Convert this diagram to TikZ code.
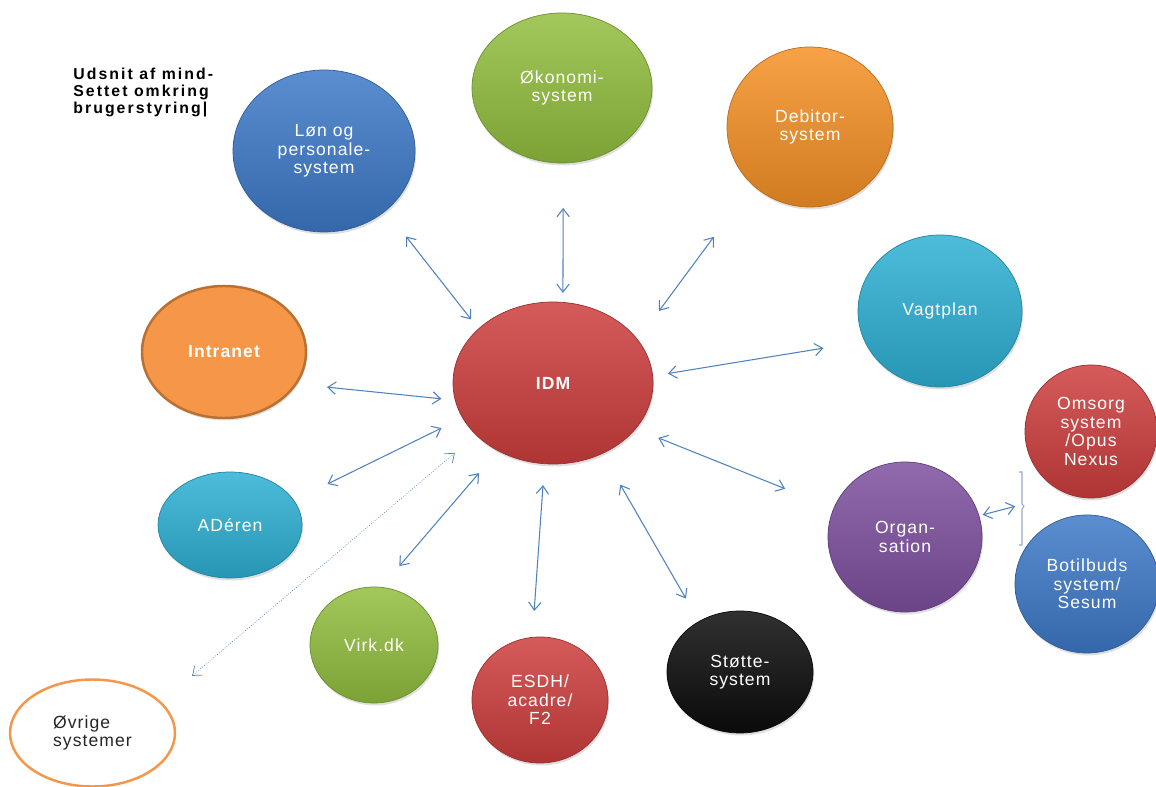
\documentclass[tikz,border=0pt]{standalone}
\usepackage{fontspec}
\usetikzlibrary{shapes.geometric,arrows.meta,shadows}

\newfontfamily\sysfont[LetterSpace=6]{Liberation Sans}
\newfontfamily\titlefont[LetterSpace=13]{Liberation Sans}
\newcommand\nodesize{\fontsize{10}{10.5}\selectfont}

\definecolor{sysblue}{RGB}{62,122,200}
\definecolor{sysgreen}{RGB}{146,190,62}
\definecolor{sysorange}{RGB}{245,145,38}
\definecolor{syscyan}{RGB}{46,176,212}
\definecolor{sysred}{RGB}{206,62,62}
\definecolor{syspurple}{RGB}{126,80,160}
\definecolor{sysblack}{RGB}{12,12,12}
\definecolor{intraorange}{RGB}{245,150,72}
\definecolor{intraedge}{RGB}{186,112,48}
\definecolor{linkblue}{RGB}{79,129,189}
\definecolor{bracegray}{RGB}{150,170,200}

\begin{document}
\begin{tikzpicture}[
    bubble/.style={ellipse, outer sep=0pt, inner sep=0pt, align=center,
      text=white, font=\sysfont\nodesize,
      top color=#1!85!white, bottom color=#1!85!black, draw=#1!75!black,
      drop shadow={opacity=0.25, shadow xshift=0.6pt, shadow yshift=-1.4pt}},
    link/.style={<->, >={Straight Barb[length=4.5pt,width=7pt]},
      draw=linkblue, line width=0.6pt}]

\useasboundingbox (0,0) rectangle (23.12,-15.74);

\node[anchor=north west, inner sep=0pt, align=left,
  font=\titlefont\bfseries\fontsize{9}{9.6}\selectfont] (title) at (1.46,-1.36)
  {Udsnit af mind-\\Settet omkring\\brugerstyring|};

% center
\node[bubble=sysred, minimum width=4cm, minimum height=3.24cm] (IDM) at (11.06,-7.66) {\bfseries IDM};

% systems round IDM
\node[bubble=sysblue, minimum width=3.64cm, minimum height=3.24cm] (Lon) at (6.48,-3.02) {Løn og\\personale-\\system};
\node[bubble=sysgreen, minimum width=3.6cm, minimum height=3cm] (Oko) at (11.24,-1.76) {Økonomi-\\system};
\node[bubble=sysorange, minimum width=3.32cm, minimum height=3.2cm] (Deb) at (16.2,-2.54) {Debitor-\\system};
\node[bubble=syscyan, minimum width=3.28cm, minimum height=3.04cm] (Vagt) at (18.8,-6.22) {Vagtplan};
\node[bubble=intraorange, top color=intraorange, bottom color=intraorange, draw=intraedge, line width=1.4pt,
  minimum width=3.28cm, minimum height=2.64cm] (Intra) at (4.48,-7.04) {\bfseries Intranet};
\node[bubble=syscyan, minimum width=2.88cm, minimum height=2.12cm] (ADe) at (4.6,-10.5) {ADéren};
\node[bubble=sysgreen, minimum width=2.56cm, minimum height=2.32cm] (Virk) at (7.48,-12.9) {Virk.dk};
\node[ellipse, outer sep=0pt, inner sep=0pt, align=left, draw=intraorange, line width=1.4pt,
  fill=white, text=black!85, font=\sysfont\nodesize,
  minimum width=3.3cm, minimum height=2.14cm] (Ovr) at (1.85,-14.66) {Øvrige\\systemer};
\node[bubble=sysred, minimum width=2.72cm, minimum height=2.52cm] (ESDH) at (10.8,-14) {ESDH/\\acadre/\\F2};
\node[bubble=sysblack, minimum width=2.92cm, minimum height=2.44cm] (Stotte) at (14.8,-13.44) {Støtte-\\system};
\node[bubble=syspurple, minimum width=3.08cm, minimum height=3cm] (Org) at (18.1,-10.74) {Organ-\\sation};
\node[bubble=sysred, minimum width=2.64cm, minimum height=2.66cm] (Oms) at (21.82,-8.63) {Omsorg\\system\\/Opus\\Nexus};
\node[bubble=sysblue, minimum width=2.88cm, minimum height=2.76cm] (Bot) at (21.74,-11.68) {Botilbuds\\system/\\Sesum};

% bracket in front of Omsorg and Botilbuds
\coordinate (brace) at (20.44,-10.09);
\draw[bracegray, line width=0.6pt] (20.38,-9.44) -| (20.44,-10.08) -- (20.48,-10.13)
  -- (20.44,-10.18) |- (20.38,-10.9);

% connectors
\draw[link, shorten <=0.66cm, shorten >=0.24cm] (Lon.-44) -- (IDM.144.8);
\draw[link, shorten <=0.9cm, shorten >=0.19cm] (Oko.-89) -- (IDM.83);
\draw[link, shorten <=1.3cm, shorten >=0.72cm] (Deb.-135.7) -- (IDM.27.8);
\draw[link, shorten <=0.84cm, shorten >=0.31cm] (Vagt.-158.9) -- (IDM.4.2);
\draw[link, shorten <=0.63cm, shorten >=0.28cm] (Intra.-24) -- (IDM.-170.5);
\draw[link, shorten <=0.75cm, shorten >=0.47cm] (ADe.21.9) -- (IDM.-159.7);
\draw[link, line width=0.4pt, densely dotted, shorten <=0.83cm, shorten >=0.56cm] (Ovr.24.2) -- (IDM.-146.9);
\draw[link, shorten <=0.56cm, shorten >=0.59cm] (Virk.83.4) -- (IDM.-129);
\draw[link, shorten <=0.53cm, shorten >=0.43cm] (ESDH.97.2) -- (IDM.-96);
\draw[link, shorten <=0.53cm, shorten >=0.72cm] (Stotte.129.8) -- (IDM.-55.9);
\draw[link, shorten <=1.05cm, shorten >=0.49cm] (Org.158.3) -- (IDM.-29.1);
\draw[link, shorten <=0.08cm, shorten >=0.14cm] (Org.16.8) -- (brace);

\end{tikzpicture}
\end{document}
